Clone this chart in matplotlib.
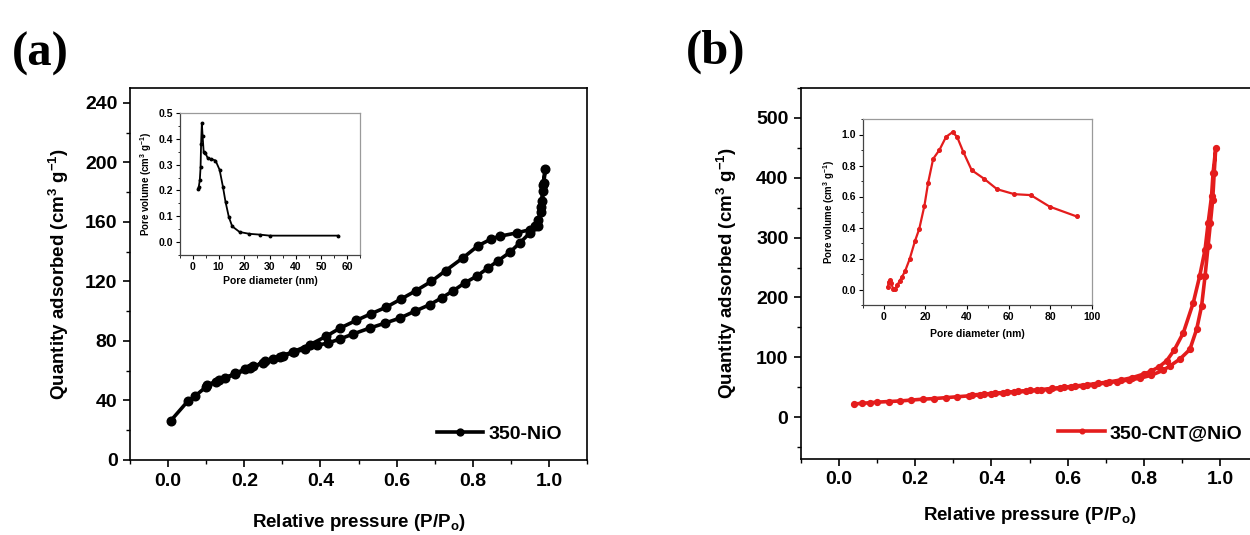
import matplotlib
matplotlib.use("Agg")
import matplotlib.pyplot as plt
from matplotlib.ticker import MultipleLocator

plt.rcParams['font.family'] = ['Liberation Sans', 'DejaVu Sans']
plt.rcParams['font.weight'] = 'bold'
plt.rcParams['mathtext.fontset'] = 'custom'
plt.rcParams['mathtext.rm'] = 'Liberation Sans:bold'
plt.rcParams['mathtext.it'] = 'Liberation Sans:bold'
plt.rcParams['mathtext.bf'] = 'Liberation Sans:bold'

# ---------------- data ----------------
# (a) 350-NiO isotherm
ads_a_x = [0.007, 0.053, 0.071, 0.100, 0.126, 0.150, 0.176, 0.202, 0.224, 0.250, 0.276, 0.303, 0.329,
           0.360, 0.390, 0.420, 0.451, 0.486, 0.530, 0.570, 0.609, 0.648, 0.688, 0.718, 0.749, 0.779,
           0.810, 0.840, 0.867, 0.897, 0.924, 0.950, 0.963, 0.972, 0.978, 0.983, 0.985, 0.987, 0.990]
ads_a_y = [26.4, 39.9, 43.0, 49.2, 52.6, 55.0, 58.3, 61.0, 63.2, 65.0, 67.8, 70.0, 72.3,
           74.5, 77.0, 78.6, 81.3, 84.7, 88.7, 92.0, 95.4, 100.0, 104.5, 108.9, 113.8, 119.0,
           123.5, 129.0, 134.0, 139.5, 146.0, 152.6, 157.0, 161.6, 166.5, 173.8, 180.6, 186.0, 195.5]
des_a_x = [0.985, 0.979, 0.972, 0.950, 0.915, 0.871, 0.849, 0.814, 0.774, 0.729, 0.691, 0.651,
           0.612, 0.572, 0.533, 0.494, 0.452, 0.414, 0.372, 0.330, 0.294, 0.254, 0.215, 0.176, 0.135, 0.103]
des_a_y = [185.0, 170.0, 157.0, 154.8, 152.6, 150.4, 148.6, 144.0, 135.8, 127.3, 120.0, 113.8,
           108.2, 102.6, 98.3, 93.8, 88.7, 83.0, 77.4, 72.9, 69.5, 66.2, 61.6, 57.6, 53.8, 50.4]

# (b) 350-CNT@NiO isotherm
ads_b_x = [0.040, 0.060, 0.080, 0.100, 0.130, 0.160, 0.190, 0.220, 0.250, 0.280, 0.310, 0.340, 0.370,
           0.400, 0.430, 0.460, 0.490, 0.520, 0.550, 0.580, 0.610, 0.640, 0.670, 0.700, 0.730, 0.760,
           0.790, 0.820, 0.850, 0.870, 0.895, 0.921, 0.939, 0.952, 0.961, 0.969, 0.975, 0.981, 0.985, 0.989]
ads_b_y = [22, 23, 24, 25, 26, 27, 28.5, 30, 31, 32.5, 34, 35.5, 37,
           38.5, 40, 41.5, 43, 44.5, 46, 48, 50, 52, 54.5, 57, 59.5, 62,
           65, 70, 78, 86, 97, 113, 147, 186, 236, 286, 324, 363, 408, 449]
des_b_x = [0.982, 0.978, 0.969, 0.961, 0.947, 0.930, 0.904, 0.880, 0.860, 0.840, 0.820, 0.800, 0.770,
           0.740, 0.710, 0.680, 0.650, 0.620, 0.590, 0.560, 0.530, 0.500, 0.470, 0.440, 0.410, 0.380, 0.350]
des_b_y = [408, 369, 324, 280, 236, 191, 141, 112, 94, 84, 77, 72, 66,
           62, 59, 56.5, 54, 52, 50, 48, 46, 44.5, 43, 41.5, 40, 38.5, 37]

# insets: pore size distributions
pd_a = [2.0, 2.3, 2.7, 3.0, 3.2, 3.5, 3.8, 4.2, 4.9, 5.8, 7.1, 8.8, 10.4, 11.7, 12.7, 14.0, 15.3,
        18.2, 22.0, 26.0, 29.9, 56.5]
pv_a = [0.204, 0.214, 0.24, 0.29, 0.38, 0.46, 0.41, 0.35, 0.344, 0.325, 0.322, 0.316, 0.28, 0.214,
        0.156, 0.097, 0.061, 0.039, 0.032, 0.029, 0.025, 0.025]
pd_b = [1.9, 2.4, 3.1, 3.6, 4.4, 5.5, 6.5, 7.6, 8.7, 10.2, 12.4, 15.0, 17.0, 19.5, 21.3, 23.7, 26.7,
        29.9, 33.0, 35.2, 38.1, 42.2, 48.0, 54.4, 62.7, 70.6, 79.6, 92.7]
pv_b = [0.017, 0.05, 0.06, 0.04, 0.006, 0.006, 0.028, 0.056, 0.08, 0.118, 0.196, 0.314, 0.39, 0.54,
        0.69, 0.843, 0.9, 0.985, 1.015, 0.985, 0.89, 0.77, 0.716, 0.647, 0.615, 0.609, 0.535, 0.471]

label_a = '350-NiO'
label_b = '350-CNT@NiO'
xticks_main = [0.0, 0.2, 0.4, 0.6, 0.8, 1.0]
yticks_a = [0, 40, 80, 120, 160, 200, 240]
yticks_b = [0, 100, 200, 300, 400, 500]

RED = '#e41c1c'
W, H = 1250, 535
fig = plt.figure(figsize=(W / 100, H / 100), dpi=100)


def frac(l, t, r, b):
    return [l / W, (H - b) / H, (r - l) / W, (b - t) / H]


def style_main(ax):
    for s in ax.spines.values():
        s.set_linewidth(1.2)
    ax.tick_params(axis='both', which='major', direction='out', length=5, width=1.2,
                   labelsize=14, pad=4)
    ax.tick_params(axis='both', which='minor', direction='out', length=3, width=1.0)
    for t in ax.get_xticklabels() + ax.get_yticklabels():
        t.set_fontweight('bold')


def style_inset(ax):
    for k, s in ax.spines.items():
        s.set_linewidth(0.9)
        s.set_color('#444444' if k in ('left', 'bottom') else '#9a9a9a')
    ax.tick_params(axis='both', which='major', direction='out', length=3, width=0.8,
                   labelsize=7.5, pad=2)
    ax.tick_params(axis='both', which='minor', direction='out', length=1.8, width=0.6)
    for t in ax.get_xticklabels() + ax.get_yticklabels():
        t.set_fontweight('bold')


# ---------------- panel (a) ----------------
ax1 = fig.add_axes(frac(130, 88, 587, 460))
xa = ads_a_x + des_a_x
ya = ads_a_y + des_a_y
ax1.plot(xa, ya, color='black', lw=2.6, marker='o', ms=6.2, label=label_a)
ax1.set_xlim(-0.1, 1.1)
ax1.set_ylim(0, 250)
ax1.set_xticks(xticks_main)
ax1.set_yticks(yticks_a)
ax1.xaxis.set_minor_locator(MultipleLocator(0.1))
ax1.yaxis.set_minor_locator(MultipleLocator(20))
style_main(ax1)
ax1.set_xlabel('Relative pressure (P/P$_o$)', fontsize=13.5, fontweight='bold', labelpad=16)
ax1.set_ylabel('Quantity adsorbed (cm$^3$ g$^{-1}$)', fontsize=13.5, fontweight='bold', labelpad=10)
ax1.legend(loc='center right', bbox_to_anchor=(0.945, 0.07), frameon=False,
           prop={'weight': 'bold', 'size': 14}, handlelength=2.4, handletextpad=0.25,
           borderpad=0, borderaxespad=0, markerscale=0.8)
fig.text(12 / W, (H - 54) / H, '(a)', family=['Liberation Serif'], fontweight='bold',
         fontsize=35, va='center', ha='left')

ins1 = fig.add_axes(frac(180, 113, 360, 255))
ins1.plot(pd_a, pv_a, color='black', lw=1.3, marker='o', ms=1.8)
ins1.set_xlim(-5, 65)
ins1.set_ylim(-0.05, 0.5)
ins1.set_xticks([0, 10, 20, 30, 40, 50, 60])
ins1.set_yticks([0.0, 0.1, 0.2, 0.3, 0.4, 0.5])
ins1.xaxis.set_minor_locator(MultipleLocator(5))
ins1.yaxis.set_minor_locator(MultipleLocator(0.05))
style_inset(ins1)
ins1.set_xlabel('Pore diameter (nm)', fontsize=7.5, fontweight='bold', labelpad=3)
ins1.set_ylabel('Pore volume (cm$^3$ g$^{-1}$)', fontsize=7, fontweight='bold', labelpad=3)

# ---------------- panel (b) ----------------
ax2 = fig.add_axes(frac(801, 88, 1258, 459))
xb = ads_b_x + des_b_x
yb = ads_b_y + des_b_y
ax2.plot(xb, yb, color=RED, lw=2.6, marker='o', ms=4.2, label=label_b)
ax2.set_xlim(-0.1, 1.1)
ax2.set_ylim(-70, 550)
ax2.set_xticks(xticks_main)
ax2.set_yticks(yticks_b)
ax2.xaxis.set_minor_locator(MultipleLocator(0.1))
ax2.yaxis.set_minor_locator(MultipleLocator(50))
style_main(ax2)
ax2.set_xlabel('Relative pressure (P/P$_o$)', fontsize=13.5, fontweight='bold', labelpad=12)
ax2.set_ylabel('Quantity adsorbed (cm$^3$ g$^{-1}$)', fontsize=13.5, fontweight='bold', labelpad=12)
ax2.legend(loc='center right', bbox_to_anchor=(0.966, 0.07), frameon=False,
           prop={'weight': 'bold', 'size': 14}, handlelength=2.4, handletextpad=0.25,
           borderpad=0, borderaxespad=0, markerscale=0.8)
fig.text(686 / W, (H - 52) / H, '(b)', family=['Liberation Serif'], fontweight='bold',
         fontsize=35, va='center', ha='left')

ins2 = fig.add_axes(frac(863, 119, 1092, 305))
ins2.plot(pd_b, pv_b, color=RED, lw=1.6, marker='o', ms=2.6)
ins2.set_xlim(-10, 100)
ins2.set_ylim(-0.1, 1.1)
ins2.set_xticks([0, 20, 40, 60, 80, 100])
ins2.set_yticks([0.0, 0.2, 0.4, 0.6, 0.8, 1.0])
ins2.xaxis.set_minor_locator(MultipleLocator(10))
ins2.yaxis.set_minor_locator(MultipleLocator(0.1))
style_inset(ins2)
ins2.set_xlabel('Pore diameter (nm)', fontsize=7.5, fontweight='bold', labelpad=5)
ins2.set_ylabel('Pore volume (cm$^3$ g$^{-1}$)', fontsize=7, fontweight='bold', labelpad=3)

fig.savefig('out.png', dpi=100)
